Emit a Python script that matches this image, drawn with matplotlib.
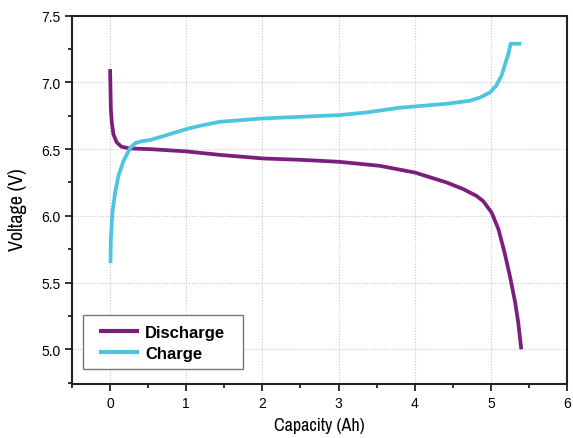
import matplotlib
matplotlib.use("Agg")
import matplotlib.pyplot as plt
from matplotlib.ticker import MultipleLocator
from matplotlib.patches import Rectangle
from matplotlib import font_manager

# Data
discharge_cap = [0.0, 0.005, 0.01, 0.022, 0.044, 0.088, 0.15, 0.26, 0.525, 1.0, 1.44, 2.01, 2.5,
                 3.01, 3.54, 4.0, 4.42, 4.64, 4.81, 4.90, 5.01, 5.10, 5.18, 5.25, 5.32, 5.36, 5.40]
discharge_v = [7.10, 6.95, 6.80, 6.70, 6.61, 6.55, 6.518, 6.505, 6.50, 6.483, 6.457, 6.43, 6.42,
               6.405, 6.375, 6.325, 6.25, 6.20, 6.15, 6.11, 6.025, 5.90, 5.725, 5.55, 5.35, 5.20, 5.00]

charge_cap = [0.005, 0.01, 0.03, 0.066, 0.11, 0.175, 0.26, 0.33, 0.42, 0.525, 0.74, 1.0, 1.18, 1.44,
              2.01, 3.01, 3.37, 3.8, 4.0, 4.42, 4.72, 4.86, 4.99, 5.07, 5.14, 5.18, 5.23, 5.26, 5.40]
charge_v = [5.645, 5.825, 6.025, 6.175, 6.30, 6.41, 6.505, 6.545, 6.56, 6.568, 6.605, 6.65, 6.675,
            6.705, 6.73, 6.755, 6.775, 6.81, 6.82, 6.84, 6.862, 6.887, 6.925, 6.975, 7.05, 7.125,
            7.213, 7.29, 7.29]

x_label = "Capacity (Ah)"
y_label = "Voltage (V)"

names = sorted({f.name for f in font_manager.fontManager.ttflist})
narrow = [n for n in names if "Narrow" in n or "Condensed" in n]
tick_font = "Liberation Sans" if "Liberation Sans" in names else "DejaVu Sans"
label_kw = dict(fontfamily=narrow[0]) if narrow else dict(fontfamily="DejaVu Sans", fontstretch="condensed")

fig = plt.figure(figsize=(5.73, 4.39), dpi=100)
ax = fig.add_axes([0.1257, 0.123, 0.8638, 0.839])

ax.plot(discharge_cap, discharge_v, color="#7B1F7D", lw=2.7, label="Discharge",
        solid_capstyle="butt", solid_joinstyle="round")
ax.plot(charge_cap, charge_v, color="#4CC5E0", lw=2.7, label="Charge",
        solid_capstyle="butt", solid_joinstyle="round")

ax.set_xlim(-0.5, 6)
ax.set_ylim(4.74, 7.5)
ax.xaxis.set_major_locator(MultipleLocator(1))
ax.xaxis.set_minor_locator(MultipleLocator(0.5))
ax.yaxis.set_minor_locator(MultipleLocator(0.25))
ax.set_yticks([5.0, 5.5, 6.0, 6.5, 7.0, 7.5])
ax.set_yticklabels(["5.0", "5.5", "6.0", "6.5", "7.0", "7.5"])

ax.grid(True, which="major", linestyle=(0, (1, 1.5)), color="#c8c8c8", lw=0.8)
ax.set_axisbelow(True)

for s in ax.spines.values():
    s.set_linewidth(1.5)
    s.set_color("#222222")

ax.tick_params(which="major", direction="out", length=5, width=1.3, labelsize=10, color="#222222")
ax.tick_params(which="minor", direction="out", length=3, width=1.3, color="#222222")
for lab in ax.get_xticklabels() + ax.get_yticklabels():
    lab.set_fontfamily(tick_font)

ax.set_xlabel(x_label, fontsize=13, labelpad=5, **label_kw)
ax.set_ylabel(y_label, fontsize=14.5, **label_kw)
ax.yaxis.set_label_coords(-0.091, 0.475)

# legend frame (drawn separately for wider horizontal padding)
ax.add_patch(Rectangle((0.0222, 0.0407), 0.323, 0.1466, transform=ax.transAxes,
                       facecolor="white", edgecolor="#777777", lw=1.0, zorder=4.5))
leg = ax.legend(loc="lower left", bbox_to_anchor=(0.0545, 0.062), frameon=False,
                handlelength=2.4, handletextpad=0.36, borderpad=0.0,
                labelspacing=0.37, borderaxespad=0.0,
                prop={"family": tick_font, "weight": "bold", "size": 12})
leg.set_zorder(5)
for h in leg.get_lines():
    h.set_linewidth(3)

fig.savefig("out.png", dpi=100)
